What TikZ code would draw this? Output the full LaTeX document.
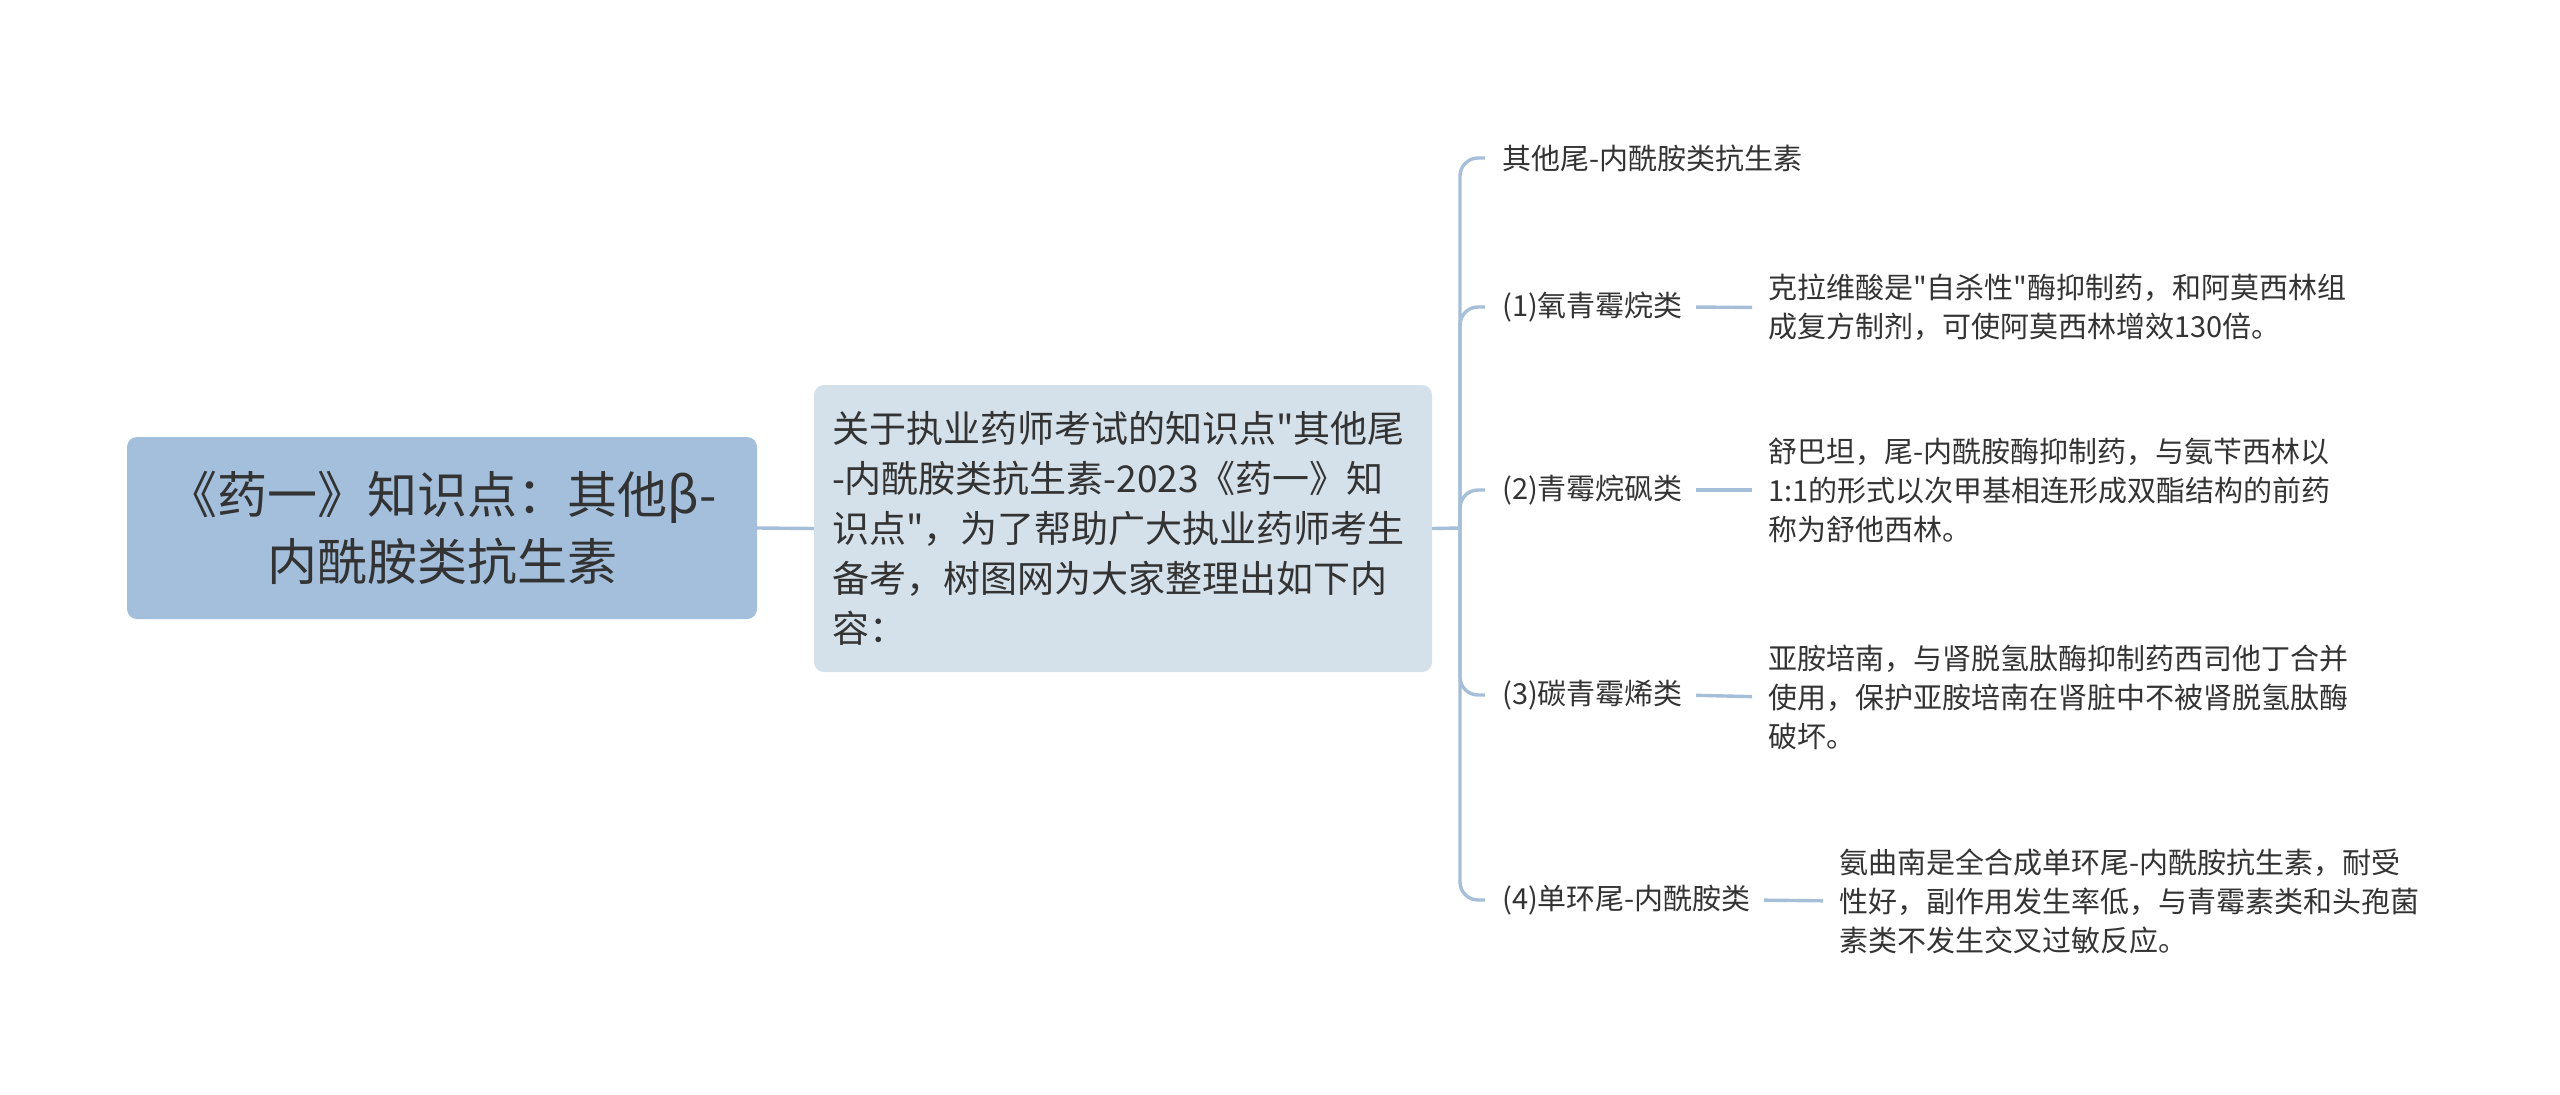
\documentclass[tikz,border=0pt]{standalone}
\usepackage{fontspec}
\newfontfamily\cnfont{Noto Sans CJK SC}
\definecolor{rootc}{HTML}{A3BFDB}
\definecolor{midc}{HTML}{D4E0EA}
\definecolor{linec}{HTML}{A6BFD8}
\definecolor{txtc}{HTML}{333333}
\tikzset{
  rootbox/.style={draw=none, fill=rootc, rounded corners=10pt, text=txtc,
    minimum width=630pt, minimum height=182pt, align=center,
    font=\cnfont\fontsize{50}{67}\selectfont, inner sep=0pt},
  midbox/.style={draw=none, fill=midc, rounded corners=10pt, text=txtc,
    minimum width=618pt, minimum height=287pt, text width=582pt, align=left,
    inner xsep=18pt, inner ysep=0pt, font=\cnfont\fontsize{37}{50}\selectfont},
  leaf/.style={text=txtc, align=left, inner sep=0pt, anchor=west,
    font=\cnfont\fontsize{29}{39}\selectfont},
  link/.style={draw=linec, line width=3.4pt},
  branch/.style={link, rounded corners=18pt},
  stub/.style={link, shorten <=13pt, shorten >=16pt}
}
\begin{document}
\begin{tikzpicture}[x=1pt, y=-1pt]
\useasboundingbox (0,0) rectangle (2560,1095);

\node[rootbox] (root) at (442,528) {《药一》知识点：其他β-\\内酰胺类抗生素};
\node[midbox] (mid) at (1123,528.5) {关于执业药师考试的知识点"其他尾\\-内酰胺类抗生素-2023《药一》知\\识点"，为了帮助广大执业药师考生\\备考，树图网为大家整理出如下内\\容：};

\coordinate (jn) at (1460,528);

\node[leaf] (l0) at (1502,158) {其他尾-内酰胺类抗生素};
\node[leaf] (l1) at (1502,307) {(1)氧青霉烷类};
\node[leaf] (l2) at (1502,490) {(2)青霉烷砜类};
\node[leaf] (l3) at (1502,695) {(3)碳青霉烯类};
\node[leaf] (l4) at (1502,900) {(4)单环尾-内酰胺类};

\node[leaf] (d1) at (1768,307.5) {克拉维酸是"自杀性"酶抑制药，和阿莫西林组\\成复方制剂，可使阿莫西林增效130倍。};
\node[leaf] (d2) at (1768,490) {舒巴坦，尾-内酰胺酶抑制药，与氨苄西林以\\1:1的形式以次甲基相连形成双酯结构的前药\\称为舒他西林。};
\node[leaf] (d3) at (1768,697) {亚胺培南，与肾脱氢肽酶抑制药西司他丁合并\\使用，保护亚胺培南在肾脏中不被肾脱氢肽酶\\破坏。};
\node[leaf] (d4) at (1839,901) {氨曲南是全合成单环尾-内酰胺抗生素，耐受\\性好，副作用发生率低，与青霉素类和头孢菌\\素类不发生交叉过敏反应。};

\draw[link] (root.east) -- (mid.west);
\draw[link] (mid.east) -- (jn);
\foreach \n in {l0,l1,l2,l3,l4}{
  \draw[branch] (jn) |- ([xshift=-17pt]\n.west);
}
\draw[stub] (l1.east) -- (d1.west);
\draw[stub] (l2.east) -- (d2.west);
\draw[stub] (l3.east) -- (d3.west);
\draw[stub] (l4.east) -- (d4.west);
\end{tikzpicture}
\end{document}
